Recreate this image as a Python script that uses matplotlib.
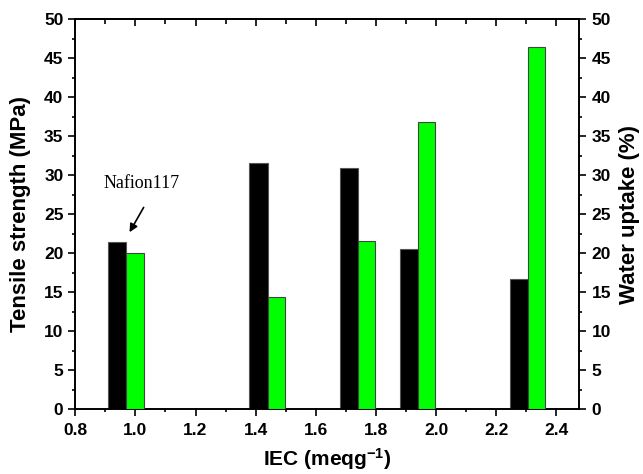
import matplotlib
matplotlib.use("Agg")
import matplotlib.pyplot as plt
from matplotlib.ticker import MultipleLocator, FormatStrFormatter

plt.rcParams['font.family'] = ['Liberation Sans', 'DejaVu Sans']
plt.rcParams['font.weight'] = 'bold'
plt.rcParams['mathtext.fontset'] = 'custom'
plt.rcParams['mathtext.bf'] = 'Liberation Sans:bold'
plt.rcParams['mathtext.rm'] = 'Liberation Sans:bold'
plt.rcParams['mathtext.default'] = 'bf'

# data
iec = [0.97, 1.44, 1.74, 1.94, 2.305]
tensile = [21.4, 31.6, 30.9, 20.5, 16.7]
water = [20.1, 14.4, 21.6, 36.8, 46.5]

fig = plt.figure(figsize=(6.43, 4.74), dpi=100)
ax = fig.add_axes([0.117, 0.1365, 0.7835, 0.8225])
ax2 = ax.twinx()

ax.bar(iec, tensile, width=-0.061, align='edge', color='black', edgecolor='#555555', linewidth=0.8, zorder=3)
ax2.bar(iec, water, width=0.057, align='edge', color='#00ff00', edgecolor='#444444', linewidth=0.8, zorder=3)

ax.set_xlim(0.8, 2.475)
ax.set_ylim(0, 50)
ax2.set_ylim(0, 50)

ax.xaxis.set_major_locator(MultipleLocator(0.2))
ax.xaxis.set_minor_locator(MultipleLocator(0.1))
ax.yaxis.set_major_locator(MultipleLocator(5))
ax.yaxis.set_minor_locator(MultipleLocator(2.5))
ax2.yaxis.set_major_locator(MultipleLocator(5))
ax2.yaxis.set_minor_locator(MultipleLocator(2.5))

ax.tick_params(axis='both', which='major', direction='out', length=5, width=1.2, labelsize=12.5)
ax.tick_params(axis='both', which='minor', direction='out', length=2.5, width=1.2)
ax.tick_params(axis='x', which='major', pad=5)
ax2.tick_params(axis='y', which='major', direction='out', length=5, width=1.2, labelsize=12.5, pad=4)
ax2.tick_params(axis='y', which='minor', direction='out', length=2.5, width=1.2)

ax.xaxis.set_major_formatter(FormatStrFormatter('%.1f'))

sec = ax.secondary_xaxis('top')
sec.xaxis.set_major_locator(MultipleLocator(0.2))
sec.xaxis.set_minor_locator(MultipleLocator(0.1))
sec.tick_params(axis='x', which='major', direction='in', length=5, width=1.2, labeltop=False)
sec.tick_params(axis='x', which='minor', direction='in', length=3.5, width=1.2)
sec.spines['top'].set_linewidth(1.2)

for a in (ax, ax2):
    for s in a.spines.values():
        s.set_linewidth(1.2)

ax.set_xlabel('IEC (meqg$^{-1}$)', fontsize=15, fontweight='bold', labelpad=6)
ax.set_ylabel('Tensile strength (MPa)', fontsize=16, fontweight='bold', labelpad=9)
ax2.set_ylabel('Water uptake (%)', fontsize=16, fontweight='bold', labelpad=6)

ax.text(1.019, 28.9, 'Nafion117', fontsize=13, family=['Liberation Serif'], fontweight='normal',
        ha='center', va='center', zorder=5)
ax.annotate('', xy=(0.976, 22.4), xytext=(1.032, 26.2),
            arrowprops=dict(arrowstyle='-|>', color='black', lw=1.2, mutation_scale=12), zorder=5)

fig.savefig('out.png', dpi=100)
